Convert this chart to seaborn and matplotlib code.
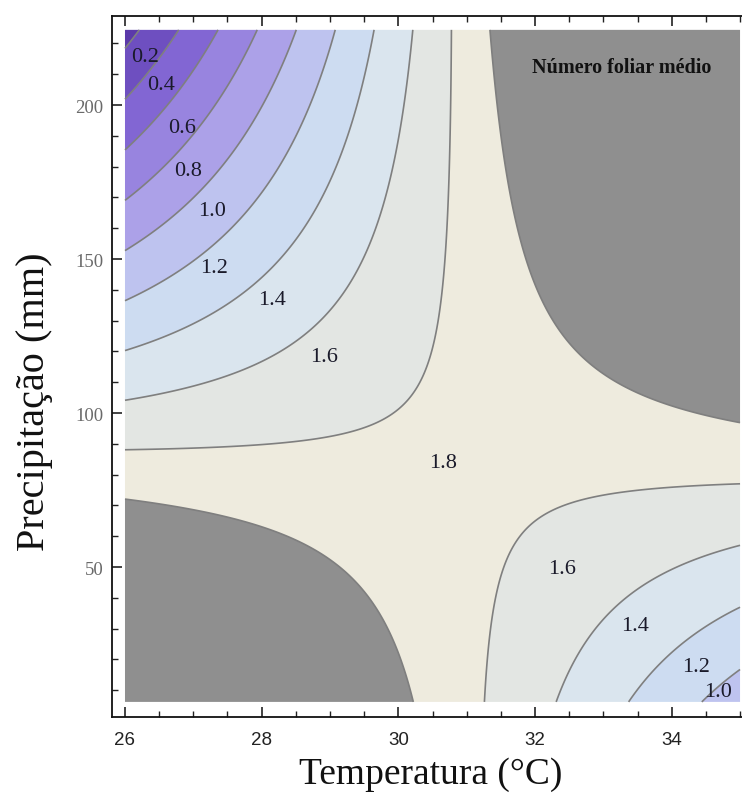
import numpy as np
import matplotlib
matplotlib.use("Agg")
import matplotlib.pyplot as plt
import seaborn as sns

# ---- data ----
# fitted response surface: f = b0 + b1*t + b2*p + b3*t*p + b4*t^2 + b5*p^2,
# with t = T - 30.5 and p = (P - 100)/100
surface_coef = [1.82387, 0.04224, -0.11625, 0.25047, 0.00087, 0.01467]
temp_range = [26.0, 35.0]
prec_range = [6.2, 224.4]
contour_levels = [0.0, 0.2, 0.4, 0.6, 0.8, 1.0, 1.2, 1.4, 1.6, 1.8, 2.0, 9.0]
band_labels = ["0.2", "0.4", "0.6", "0.8", "1.0", "1.2", "1.4", "1.6",
               "1.8", "1.6", "1.4", "1.2", "1.0"]
label_T = [26.30, 26.53, 26.83, 26.92, 27.28, 27.31, 28.15, 28.92,
           30.66, 32.39, 33.47, 34.36, 34.68]
label_P = [215.6, 206.5, 192.8, 178.6, 165.6, 147.4, 137.0, 118.2,
           84.0, 49.4, 31.0, 17.6, 9.7]
x_ticks = [26, 28, 30, 32, 34]
y_ticks = [50, 100, 150, 200]
title_text = "Número foliar médio"
x_label = "Temperatura (°C)"
y_label = "Precipitação (mm)"

band_colors = ["#5b39aa", "#6e4fc0", "#8266d3", "#9884df", "#aca1e8",
               "#bec3ef", "#cddcf1", "#dae5ee", "#e3e6e3", "#eeebde", "#8f8f8f"]

sns.set_theme(style="white")
plt.rcParams["font.family"] = ["Liberation Serif", "DejaVu Serif"]

fig = plt.figure(figsize=(7.42, 8.03), dpi=100)
ax = fig.add_axes([112/742, 1-718/803, (752-112)/742, (718-17)/803])

Tg = np.linspace(temp_range[0], temp_range[1], 400)
Pg = np.linspace(prec_range[0], prec_range[1], 400)
TT, PP = np.meshgrid(Tg, Pg)
tt = TT - 30.5
pp = (PP - 100) / 100
b = surface_coef
Z = b[0] + b[1]*tt + b[2]*pp + b[3]*tt*pp + b[4]*tt*tt + b[5]*pp*pp

ax.contourf(TT, PP, Z, levels=contour_levels, colors=band_colors, antialiased=True)
ax.contour(TT, PP, Z, levels=contour_levels[1:-1], colors="#7f7f7f", linewidths=1.2)

for txt, xt, yt in zip(band_labels, label_T, label_P):
    ax.text(xt, yt, txt, ha="center", va="center", fontsize=16, color="#1a1a2a")

ax.text(33.27, 212.3, title_text, ha="center", va="center", fontsize=14.5,
        fontweight="bold", color="#111111")

ax.set_xlim(25.81, 35.175)
ax.set_ylim(1.3, 228.9)

ax.set_xticks(x_ticks)
ax.set_yticks(y_ticks)
ax.set_xticks(np.arange(26, 35.01, 0.5), minor=True)
ax.set_yticks(np.arange(10, 225, 10), minor=True)
ax.tick_params(which="both", direction="in", top=True, right=True, bottom=True, left=True,
               color="#222222")
ax.tick_params(which="major", length=7, width=1.2)
ax.tick_params(which="minor", length=4, width=1.0)
ax.tick_params(axis="x", which="major", pad=10, labelsize=13.5)
ax.tick_params(axis="y", which="major", pad=6, labelsize=13.5, labelcolor="#6a6a6a")
for lab in ax.get_xticklabels():
    lab.set_fontfamily(["Liberation Sans", "DejaVu Sans"])
    lab.set_color("#222222")
for sp in ax.spines.values():
    sp.set_color("#111111")
    sp.set_linewidth(1.3)

fig.text(431/742, 1-775/803, x_label, ha="center", va="center", fontsize=27,
         color="#111111")
fig.text(35/742, 1-402/803, y_label, ha="center", va="center", fontsize=29,
         rotation=90, color="#111111")

fig.savefig("out.png", dpi=100, facecolor="white")
